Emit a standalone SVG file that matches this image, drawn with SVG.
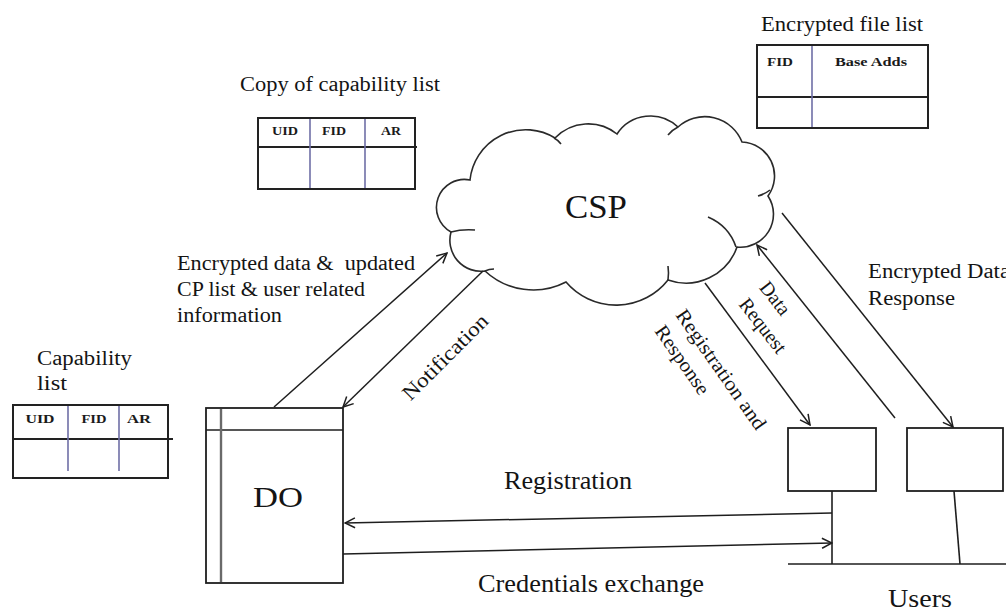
<svg xmlns="http://www.w3.org/2000/svg" width="1006" height="610" viewBox="0 0 1006 610">
  <defs>
    <style>
      .t { font-family: "Liberation Serif", "Times New Roman", serif; fill: #141414; }
      .s20 { font-size: 20px; }
      .hd { font-family: "Liberation Serif", "Times New Roman", serif; font-size: 12px; font-weight: bold; fill: #1a1a1a; text-anchor: middle; }
      .frame { fill: #fff; stroke: #222; stroke-width: 2; }
      .rule { stroke: #222; stroke-width: 2; fill: none; }
      .col { stroke: #6f6fa6; stroke-width: 1.6; fill: none; }
      .box { fill: #fff; stroke: #1e1e1e; stroke-width: 1.8; }
      .wire { stroke: #1e1e1e; stroke-width: 1.6; fill: none; }
      .flow { stroke: #1e1e1e; stroke-width: 1.5; fill: none; marker-end: url(#ah); }
      .cloud { fill: #fff; stroke: #2a2a2a; stroke-width: 1.6; }
      .hook { fill: none; stroke: #2a2a2a; stroke-width: 1.6; }
    </style>
    <marker id="ah" viewBox="0 0 12 12" refX="11" refY="6" markerWidth="12" markerHeight="12" markerUnits="userSpaceOnUse" orient="auto">
      <path d="M1,1 L11,6 L1,11" fill="none" stroke="#1e1e1e" stroke-width="1.5"/>
    </marker>
  </defs>

  <rect width="1006" height="610" fill="#fff"/>

  <!-- cloud service provider -->
  <g id="csp">
    <path class="cloud" d="M451,232 A28,28 0 0 1 470,180 A56,56 0 0 1 555,138 A46,46 0 0 1 617,134 A40,40 0 0 1 678,127 A40,40 0 0 1 742,142 A34,34 0 0 1 768,196 A33,33 0 0 1 737,247 A54,54 0 0 1 668,280 A66,66 0 0 1 566,282 A71,71 0 0 1 485,271 A31,31 0 0 1 451,232 Z"/>
    <path class="hook" d="M451,232 Q462,229 475,230"/>
    <path class="hook" d="M554,138 Q558,140 561,144"/>
    <path class="hook" d="M678,127 Q672,130 668,135"/>
    <path class="hook" d="M770,190 Q765,194 758,196"/>
    <path class="hook" d="M708,217 Q729,226 736,247"/>
    <path class="hook" d="M668,280 Q669,273 668,266"/>
    <path class="hook" d="M485,271 Q489,269 494,269"/>
    <text class="t" x="565" y="218" font-size="33" textLength="62" lengthAdjust="spacingAndGlyphs">CSP</text>
  </g>

  <!-- copy of capability list held by the provider -->
  <g id="copy-cap-list">
    <text class="t s20" x="240" y="91" textLength="200" lengthAdjust="spacingAndGlyphs">Copy of capability list</text>
    <rect class="frame" x="258" y="118" width="157" height="71"/>
    <line class="rule" x1="258" y1="147" x2="417" y2="147"/>
    <line class="col" x1="310" y1="119" x2="310" y2="188"/>
    <line class="col" x1="365" y1="119" x2="365" y2="188"/>
    <text class="hd" x="285" y="135" textLength="26" lengthAdjust="spacingAndGlyphs">UID</text>
    <text class="hd" x="334" y="135" textLength="24" lengthAdjust="spacingAndGlyphs">FID</text>
    <text class="hd" x="391" y="135" textLength="20" lengthAdjust="spacingAndGlyphs">AR</text>
  </g>

  <!-- encrypted file list -->
  <g id="enc-file-list">
    <text class="t s20" x="761" y="31" textLength="162" lengthAdjust="spacingAndGlyphs">Encrypted file list</text>
    <rect class="frame" x="757" y="45" width="171" height="83"/>
    <line class="rule" x1="757" y1="97" x2="928" y2="97"/>
    <line class="col" x1="812" y1="46" x2="812" y2="127"/>
    <text class="hd" x="780" y="66" textLength="26" lengthAdjust="spacingAndGlyphs">FID</text>
    <text class="hd" x="871" y="66" textLength="72" lengthAdjust="spacingAndGlyphs">Base Adds</text>
  </g>

  <!-- capability list held by the data owner -->
  <g id="cap-list">
    <text class="t s20" x="37" y="365" textLength="95" lengthAdjust="spacingAndGlyphs">Capability</text>
    <text class="t s20" x="37" y="390" textLength="30" lengthAdjust="spacingAndGlyphs">list</text>
    <rect class="frame" x="13" y="405" width="155" height="73"/>
    <line class="rule" x1="13" y1="439" x2="173" y2="439"/>
    <line class="col" x1="68" y1="406" x2="68" y2="471"/>
    <line class="col" x1="119" y1="406" x2="119" y2="471"/>
    <text class="hd" x="40" y="423" textLength="29" lengthAdjust="spacingAndGlyphs">UID</text>
    <text class="hd" x="94" y="423" textLength="25" lengthAdjust="spacingAndGlyphs">FID</text>
    <text class="hd" x="139" y="423" textLength="24" lengthAdjust="spacingAndGlyphs">AR</text>
  </g>

  <!-- data owner -->
  <g id="do">
    <rect class="box" x="206" y="408" width="137" height="175"/>
    <line class="wire" x1="206" y1="430" x2="343" y2="430"/>
    <line x1="221" y1="409" x2="221" y2="582" stroke="#6a6a6a" stroke-width="2.4"/>
    <text class="t" x="253" y="507" font-size="29" textLength="50" lengthAdjust="spacingAndGlyphs">DO</text>
  </g>

  <!-- users -->
  <g id="users">
    <rect class="box" x="788" y="428" width="88" height="63"/>
    <rect class="box" x="907" y="428" width="96" height="63"/>
    <line class="wire" x1="832" y1="491" x2="832" y2="564"/>
    <line class="wire" x1="954" y1="491" x2="960" y2="564"/>
    <line class="wire" x1="788" y1="564" x2="1006" y2="564"/>
    <text class="t" x="888" y="607" font-size="25" textLength="64" lengthAdjust="spacingAndGlyphs">Users</text>
  </g>

  <!-- message flows -->
  <g id="connectors">
    <line class="flow" x1="274" y1="407" x2="447" y2="253"/>
    <line class="flow" x1="483" y1="271" x2="343" y2="407"/>
    <line class="flow" x1="705" y1="283" x2="810" y2="425"/>
    <line class="flow" x1="895" y1="418" x2="757" y2="245"/>
    <line class="flow" x1="782" y1="213" x2="953" y2="427"/>
    <line class="flow" x1="832" y1="513" x2="345" y2="523"/>
    <line class="flow" x1="343" y1="554" x2="832" y2="543"/>

    <text class="t s20" style="white-space:pre" x="177" y="270" textLength="238" lengthAdjust="spacingAndGlyphs">Encrypted data &amp;  updated</text>
    <text class="t s20" x="177" y="296" textLength="188" lengthAdjust="spacingAndGlyphs">CP list &amp; user related</text>
    <text class="t s20" x="177" y="322" textLength="105" lengthAdjust="spacingAndGlyphs">information</text>

    <text class="t" font-size="21" text-anchor="middle" textLength="112" lengthAdjust="spacingAndGlyphs" transform="translate(450,362) rotate(-45)">Notification</text>

    <text class="t s20" textLength="142" lengthAdjust="spacingAndGlyphs" transform="translate(675,315) rotate(55)">Registration and</text>
    <text class="t s20" textLength="80" lengthAdjust="spacingAndGlyphs" transform="translate(654,331) rotate(55)">Response</text>

    <text class="t s20" textLength="37" lengthAdjust="spacingAndGlyphs" transform="translate(758.6,287.7) rotate(52)">Data</text>
    <text class="t s20" textLength="64" lengthAdjust="spacingAndGlyphs" transform="translate(738,304.6) rotate(52)">Request</text>

    <text class="t s20" x="868" y="278" textLength="142" lengthAdjust="spacingAndGlyphs">Encrypted Data</text>
    <text class="t s20" x="868" y="305" textLength="87" lengthAdjust="spacingAndGlyphs">Response</text>

    <text class="t" x="504" y="489" font-size="25" textLength="128" lengthAdjust="spacingAndGlyphs">Registration</text>
    <text class="t" x="478" y="592" font-size="25" textLength="226" lengthAdjust="spacingAndGlyphs">Credentials exchange</text>
  </g>
</svg>
